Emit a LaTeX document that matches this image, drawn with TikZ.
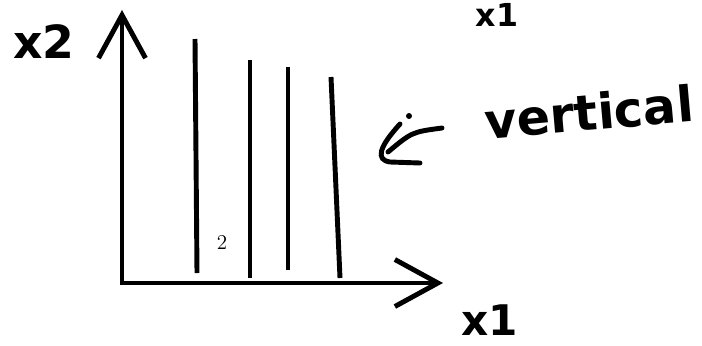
\documentclass[tikz,border=0pt]{standalone}
\usepackage{fontspec}
\newfontfamily\handfont{DejaVu Sans Bold}
\usetikzlibrary{arrows.meta}

\tikzset{
    pen/.style={line width=2.8pt, line cap=round},
    axis/.style={pen, line cap=butt, {Straight Barb[length=8.6mm,width=9.4mm]}-{Straight Barb[length=8.6mm,width=9.4mm]}},
    handtext/.style={inner sep=0pt, font=\handfont\fontsize{#1}{#1}\selectfont},
}

\begin{document}
\begin{tikzpicture}[x=0.02cm, y=-0.02cm]
    \clip (0,0) rectangle (702,345);

    % axes
    \coordinate (ytip) at (122,10);
    \coordinate (origin) at (122,283);
    \coordinate (xtip) at (443,283);
    \draw[axis] (ytip) -- (origin) -- (xtip);

    % vertical lines
    \foreach \xt/\yt/\xb/\yb in {195/39/197/273, 250/60/250/278, 288/67/288/270, 331/77/340/278} {
        \draw[pen, line cap=butt] (\xt,\yt) -- (\xb,\yb);
    }
    \node[inner sep=0pt, font=\fontsize{12}{14}\selectfont] (two) at (222,242) {2};

    % labels
    \node[handtext=26] (xtwo) at (44,42) {x2};
    \node[handtext=24] (xone) at (490,320) {x1};
    \node[handtext=18] (xonetop) at (497,15) {x1};

    % arrow pointing at the lines
    \coordinate (shaftstart) at (442,128);
    \coordinate (corner) at (384,157);
    \draw[pen] (shaftstart) .. controls (412,132) .. (388,152);
    \draw[pen] (400,124) .. controls (378,148) and (376,160) .. (390,162) -- (420,163);
    \fill (409,116) circle (3);
    \node[handtext=28, rotate=5] (vert) at (589,112) {vertical};
\end{tikzpicture}
\end{document}
